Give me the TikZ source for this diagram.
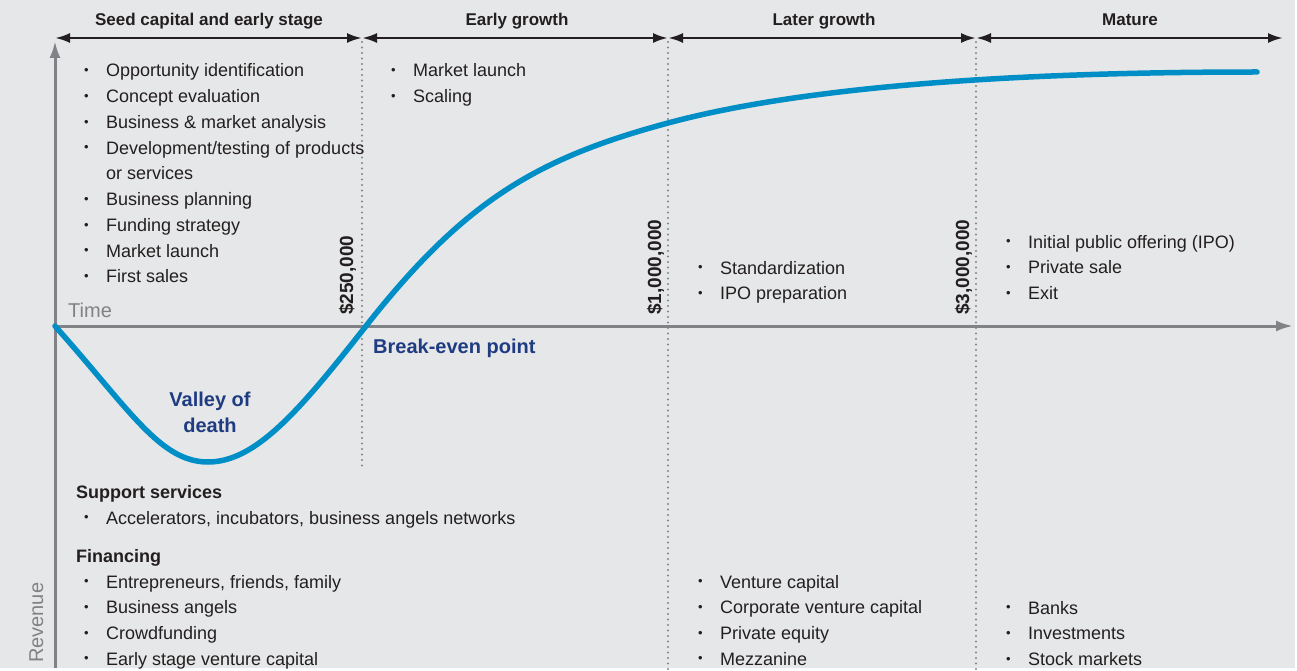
\documentclass[tikz,border=0pt]{standalone}
\usepackage{fontspec}
\setmainfont{Liberation Sans}
\usetikzlibrary{arrows.meta}
\definecolor{bg}{HTML}{E6E7E8}
\definecolor{ink}{HTML}{231F20}
\definecolor{axisgray}{HTML}{808285}
\definecolor{dotgray}{HTML}{858585}
\definecolor{curveblue}{RGB}{0,142,198}
\definecolor{darkblue}{HTML}{1F3C82}
\newcommand\bul{\raisebox{2.3pt}{\fontsize{13}{13}\selectfont •}}
\newcommand\blist[1]{\begin{tabular}[t]{@{}l@{\hspace{17.4pt}}l@{}}#1\end{tabular}}
\begin{document}
\begin{tikzpicture}[x=1pt,y=-1pt,
  txt/.style={inner sep=0, text=ink, font=\fontsize{18}{25.75}\selectfont, anchor=base west},
  head/.style={inner sep=0, text=ink, font=\bfseries\fontsize{18}{25.75}\selectfont, anchor=base west},
  phase/.style={inner sep=0, text=ink, font=\bfseries\fontsize{17}{20}\selectfont, anchor=base},
  money/.style={inner sep=0, text=ink, font=\bfseries\fontsize{19}{20}\selectfont, anchor=base west, rotate=90},
  axislabel/.style={inner sep=0, text=axisgray, font=\fontsize{20}{22}\selectfont, anchor=base west},
  bluelabel/.style={inner sep=0, text=darkblue, font=\bfseries\fontsize{20}{26}\selectfont},
  phasearrow/.style={draw=ink, line width=2.5pt, {Latex[length=15pt,width=10pt]}-{Latex[length=15pt,width=10pt]}},
  axis/.style={draw=axisgray, line width=3pt, -{Latex[length=17pt,width=11pt]}},
  divider/.style={draw=dotgray, line width=2.2pt, line cap=round, dash pattern=on 0pt off 5.5pt},
  curve/.style={draw=curveblue, line width=5.5pt, line cap=round, line join=round}
]
\useasboundingbox (0,0) rectangle (1297,671);
\fill[white] (0,0) rectangle (1297,671);
\fill[bg] (0,0) rectangle (1295,668);

% coordinates
\coordinate (p0) at (55,38);
\coordinate (p1) at (362,38);
\coordinate (p2) at (668,38);
\coordinate (p3) at (976,38);
\coordinate (p4) at (1283,38);
\coordinate (origin) at (55,326);
\coordinate (ytop) at (55,41);
\coordinate (ybot) at (55,668);
\coordinate (xend) at (1293,326);
\coordinate (d1a) at (362,42);
\coordinate (d1b) at (362,466);
\coordinate (d2a) at (668,42);
\coordinate (d2b) at (668,671);
\coordinate (d3a) at (976,42);
\coordinate (d3b) at (976,671);
\coordinate (vmin) at (208,462);
\coordinate (breakpt) at (366,326);
\coordinate (c1) at (668,123);
\coordinate (cend) at (1257,72);

% dividers
\draw[divider] (d1a) -- (d1b);
\draw[divider] (d2a) -- (d2b);
\draw[divider] (d3a) -- (d3b);

% axes
\draw[axis] (ybot) -- (ytop);
\draw[axis] (origin) -- (xend);

% phase arrows
\draw[phasearrow] (p0) -- (p1);
\draw[phasearrow] (p1) -- (p2);
\draw[phasearrow] (p2) -- (p3);
\draw[phasearrow] (p3) -- (p4);

% phase headings
\node[phase] (h1) at (209,26) {Seed capital and early stage};
\node[phase] (h2) at (517,26) {Early growth};
\node[phase] (h3) at (824,26) {Later growth};
\node[phase] (h4) at (1130,26) {Mature};

% curve
\draw[curve] (origin) .. controls (130,410) and (160,462) .. (vmin)
  .. controls (256,462) and (300,410) .. (breakpt)
  .. controls (465,200) and (538,158) .. (c1)
  .. controls (818,82.5) and (1050,72) .. (cend);

% axis labels
\node[axislabel] (time) at (68,317) {Time};
\node[axislabel, rotate=90] (revenue) at (43,663) {Revenue};

% money labels
\node[money] (m1) at (353,315) {\$250,000};
\node[money] (m2) at (661,315) {\$1,000,000};
\node[money] (m3) at (969,315) {\$3,000,000};

% blue labels
\node[bluelabel, anchor=base west] (breakeven) at (373,353) {Break-even point};
\node[bluelabel, anchor=base] (valley1) at (210,406) {Valley of};
\node[bluelabel, anchor=base] (valley2) at (210,432) {death};

% lists
\node[txt] (seedlist) at (84,77) {\blist{
  \bul & Opportunity identification\\
  \bul & Concept evaluation\\
  \bul & Business \& market analysis\\
  \bul & Development/testing of products\\
       & or services\\
  \bul & Business planning\\
  \bul & Funding strategy\\
  \bul & Market launch\\
  \bul & First sales}};
\node[txt] (earlylist) at (391,77) {\blist{
  \bul & Market launch\\
  \bul & Scaling}};
\node[txt] (laterlist) at (698,274) {\blist{
  \bul & Standardization\\
  \bul & IPO preparation}};
\node[txt] (maturelist) at (1006,248) {\blist{
  \bul & Initial public offering (IPO)\\
  \bul & Private sale\\
  \bul & Exit}};

% support and financing
\node[head] (support) at (76,498) {Support services};
\node[txt] (supportlist) at (84,524) {\blist{
  \bul & Accelerators, incubators, business angels networks}};
\node[head] (financing) at (76,562) {Financing};
\node[txt] (finlist1) at (84,588) {\blist{
  \bul & Entrepreneurs, friends, family\\
  \bul & Business angels\\
  \bul & Crowdfunding\\
  \bul & Early stage venture capital}};
\node[txt] (finlist2) at (698,588) {\blist{
  \bul & Venture capital\\
  \bul & Corporate venture capital\\
  \bul & Private equity\\
  \bul & Mezzanine}};
\node[txt] (finlist3) at (1006,614) {\blist{
  \bul & Banks\\
  \bul & Investments\\
  \bul & Stock markets}};
\end{tikzpicture}
\end{document}
